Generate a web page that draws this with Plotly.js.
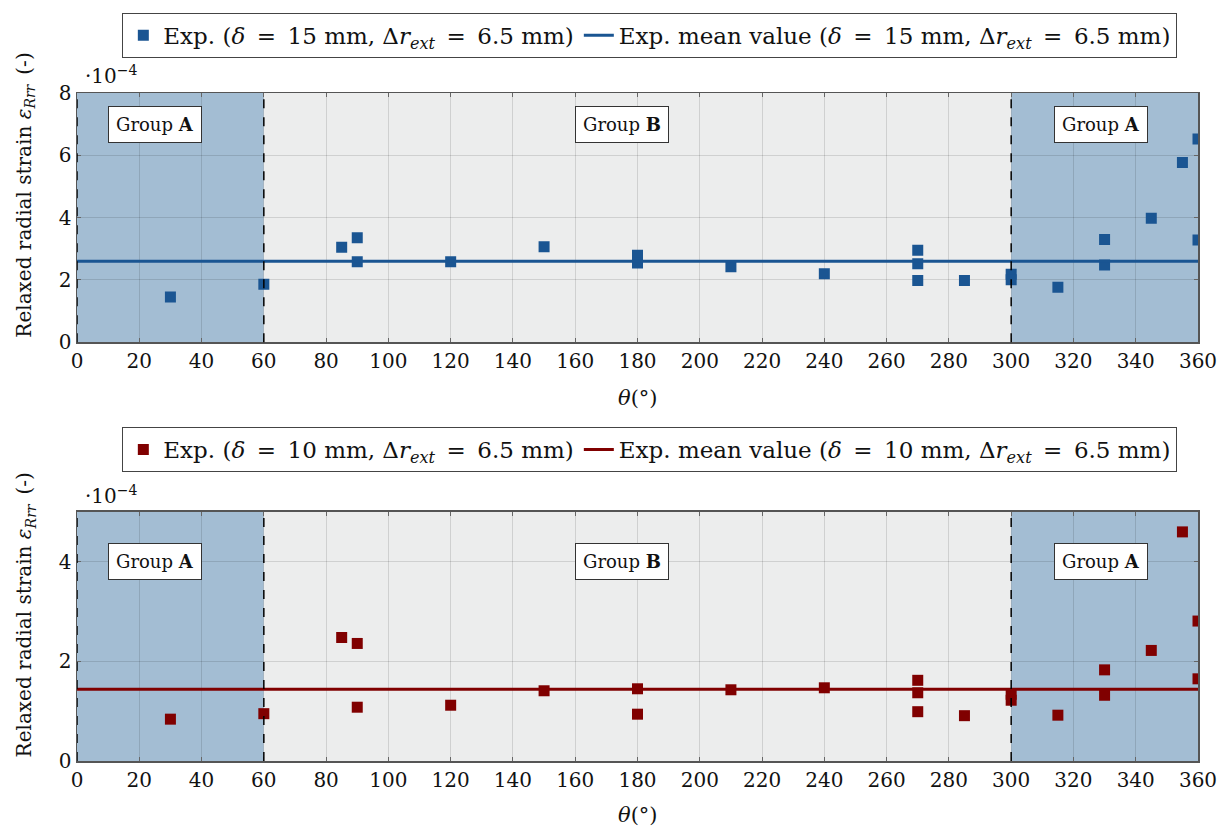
<!DOCTYPE html>
<html>
<head>
<meta charset="utf-8">
<script src="https://cdn.plot.ly/plotly-3.0.1.min.js"></script>
<style>html,body{margin:0;padding:0;background:#fff;}#chart{width:1226px;height:834px;}</style>
</head>
<body>
<div id="chart"></div>
<script>
// ---- data (strain values in units of 1e-4) ----
const thetaTop = [30, 60, 85, 90, 90, 120, 150, 180, 180, 210, 240, 270, 270, 270, 285, 300, 300, 315, 330, 330, 345, 355, 360, 360];
const strainTop = [1.45, 1.86, 3.05, 3.35, 2.58, 2.58, 3.06, 2.79, 2.54, 2.42, 2.2, 2.95, 2.52, 1.98, 1.98, 2.18, 2.0, 1.76, 3.3, 2.48, 3.98, 5.77, 6.52, 3.28];
const meanTop = 2.6;

const thetaBot = [30, 60, 85, 90, 90, 120, 150, 180, 180, 210, 240, 270, 270, 270, 285, 300, 300, 315, 330, 330, 345, 355, 360, 360];
const strainBot = [0.84, 0.95, 2.48, 2.36, 1.08, 1.12, 1.41, 1.45, 0.94, 1.43, 1.47, 1.62, 1.37, 0.99, 0.91, 1.34, 1.22, 0.92, 1.83, 1.32, 2.22, 4.6, 2.81, 1.65];
const meanBot = 1.44;

const thetaRange = [0, 360];
const groupBounds = [0, 60, 300, 360];
const groupLabels = ["Group <b>A</b>", "Group <b>B</b>", "Group <b>A</b>"];
const groupLabelX = [25, 175, 329];
const xTicks = [0, 20, 40, 60, 80, 100, 120, 140, 160, 180, 200, 220, 240, 260, 280, 300, 320, 340, 360];

const SP = "\u2002";
const legendTop = ["Exp. (<i>δ</i>" + SP + "=" + SP + "15 mm, Δ<i>r</i><sub><i>ext</i></sub>" + SP + "=" + SP + "6.5 mm)",
                   "Exp. mean value (<i>δ</i>" + SP + "=" + SP + "15 mm, Δ<i>r</i><sub><i>ext</i></sub>" + SP + "=" + SP + "6.5 mm)"];
const legendBot = ["Exp. (<i>δ</i>" + SP + "=" + SP + "10 mm, Δ<i>r</i><sub><i>ext</i></sub>" + SP + "=" + SP + "6.5 mm)",
                   "Exp. mean value (<i>δ</i>" + SP + "=" + SP + "10 mm, Δ<i>r</i><sub><i>ext</i></sub>" + SP + "=" + SP + "6.5 mm)"];

// ---- styles ----
const FONT = "'DejaVu Serif', 'Liberation Serif', serif";
const BLUE = "#1a5592";
const RED = "#800000";
const SHADE_A = "#a3bdd3";
const SHADE_B = "#eceded";

const traces = [
  {x: thetaTop, y: strainTop, type: "scatter", mode: "markers", name: legendTop[0],
   marker: {symbol: "square", size: 11, color: BLUE}, xaxis: "x", yaxis: "y", legend: "legend"},
  {x: thetaRange, y: thetaRange.map(() => meanTop), type: "scatter", mode: "lines", name: legendTop[1],
   line: {color: BLUE, width: 3}, xaxis: "x", yaxis: "y", legend: "legend"},
  {x: thetaBot, y: strainBot, type: "scatter", mode: "markers", name: legendBot[0],
   marker: {symbol: "square", size: 11, color: RED}, xaxis: "x2", yaxis: "y2", legend: "legend2"},
  {x: thetaRange, y: thetaRange.map(() => meanBot), type: "scatter", mode: "lines", name: legendBot[1],
   line: {color: RED, width: 3}, xaxis: "x2", yaxis: "y2", legend: "legend2"}
];

function shapesFor(xr, yr) {
  const s = [];
  const fills = [SHADE_A, SHADE_B, SHADE_A];
  for (let i = 0; i < 3; i++) {
    s.push({type: "rect", xref: xr, yref: yr + " domain", x0: groupBounds[i], x1: groupBounds[i + 1], y0: 0, y1: 1,
            fillcolor: fills[i], line: {width: 0}, layer: "below"});
  }
  for (let i = 0; i < 3; i++) {
    s.push({type: "line", xref: xr, yref: yr + " domain", x0: groupBounds[i], x1: groupBounds[i], y0: 0, y1: 1,
            line: {color: "#000", width: 1.5, dash: "dash"}, layer: "above"});
  }
  return s;
}

function groupAnn(xr, yr, yv) {
  return groupLabels.map((t, i) => ({
    xref: xr, yref: yr, x: groupLabelX[i], y: yv, text: t, showarrow: false,
    font: {family: FONT, size: 18, color: "#111"}, bgcolor: "#fff", bordercolor: "#333", borderwidth: 1,
    borderpad: 7
  }));
}

const axisX = {range: [0, 360], tickvals: xTicks, ticks: "inside", ticklen: 4, tickcolor: "#666", showline: true,
  linecolor: "#555", linewidth: 1.5, mirror: "ticks", showgrid: true, gridcolor: "rgba(0,0,0,0.12)",
  zeroline: false, tickfont: {family: FONT, size: 20, color: "#111"}};
const axisYBase = {ticks: "inside", ticklen: 4, tickcolor: "#666", showline: true,
  linecolor: "#555", linewidth: 1.5, mirror: "ticks", showgrid: true, gridcolor: "rgba(0,0,0,0.12)",
  zeroline: false, tickfont: {family: FONT, size: 20, color: "#111"}, dtick: 2};

const ytitle = "Relaxed radial strain <i>ε</i><sub><i>Rrr</i></sub>" + SP + "(-)";

const legendCommon = {orientation: "h", xref: "paper", yref: "paper", xanchor: "center", yanchor: "top",
  bgcolor: "#fff", bordercolor: "#444", borderwidth: 1, font: {family: FONT, size: 23, color: "#111"},
  itemwidth: 30, tracegroupgap: 0};

const layout = {
  width: 1226, height: 834,
  margin: {l: 77, r: 28, t: 93, b: 73},
  paper_bgcolor: "#fff", plot_bgcolor: "#fff",
  showlegend: true,
  xaxis: Object.assign({}, axisX, {domain: [0, 1], anchor: "y"}),
  yaxis: Object.assign({}, axisYBase, {domain: [0.627, 1], range: [0, 8], anchor: "x"}),
  xaxis2: Object.assign({}, axisX, {domain: [0, 1], anchor: "y2"}),
  yaxis2: Object.assign({}, axisYBase, {domain: [0, 0.3728], range: [0, 5], anchor: "x2"}),
  legend: Object.assign({}, legendCommon, {x: 0.511, y: 1.12}),
  legend2: Object.assign({}, legendCommon, {x: 0.511, y: 0.5}),
  shapes: shapesFor("x", "y").concat(shapesFor("x2", "y2")),
  annotations: groupAnn("x", "y", 7).concat(groupAnn("x2", "y2", 4)).concat([
    {xref: "paper", yref: "paper", x: 0.005, y: 1.027, xanchor: "left", yanchor: "middle", text: "·10<sup>−4</sup>",
     showarrow: false, font: {family: FONT, size: 20, color: "#111"}},
    {xref: "paper", yref: "paper", x: 0.005, y: 0.398, xanchor: "left", yanchor: "middle", text: "·10<sup>−4</sup>",
     showarrow: false, font: {family: FONT, size: 20, color: "#111"}},
    {xref: "paper", yref: "paper", x: -0.046, y: 0.847, xanchor: "center", yanchor: "middle", textangle: -90,
     text: ytitle, showarrow: false, font: {family: FONT, size: 20, color: "#111"}},
    {xref: "paper", yref: "paper", x: -0.046, y: 0.2186, xanchor: "center", yanchor: "middle", textangle: -90,
     text: ytitle, showarrow: false, font: {family: FONT, size: 20, color: "#111"}},
    {xref: "paper", yref: "paper", x: 0.5, y: 0.5434, xanchor: "center", yanchor: "middle", text: "<i>θ</i>(°)",
     showarrow: false, font: {family: FONT, size: 21, color: "#111"}},
    {xref: "paper", yref: "paper", x: 0.5, y: -0.0808, xanchor: "center", yanchor: "middle", text: "<i>θ</i>(°)",
     showarrow: false, font: {family: FONT, size: 21, color: "#111"}}
  ])
};

Plotly.newPlot("chart", traces, layout, {displayModeBar: false, staticPlot: true});
</script>
</body>
</html>
